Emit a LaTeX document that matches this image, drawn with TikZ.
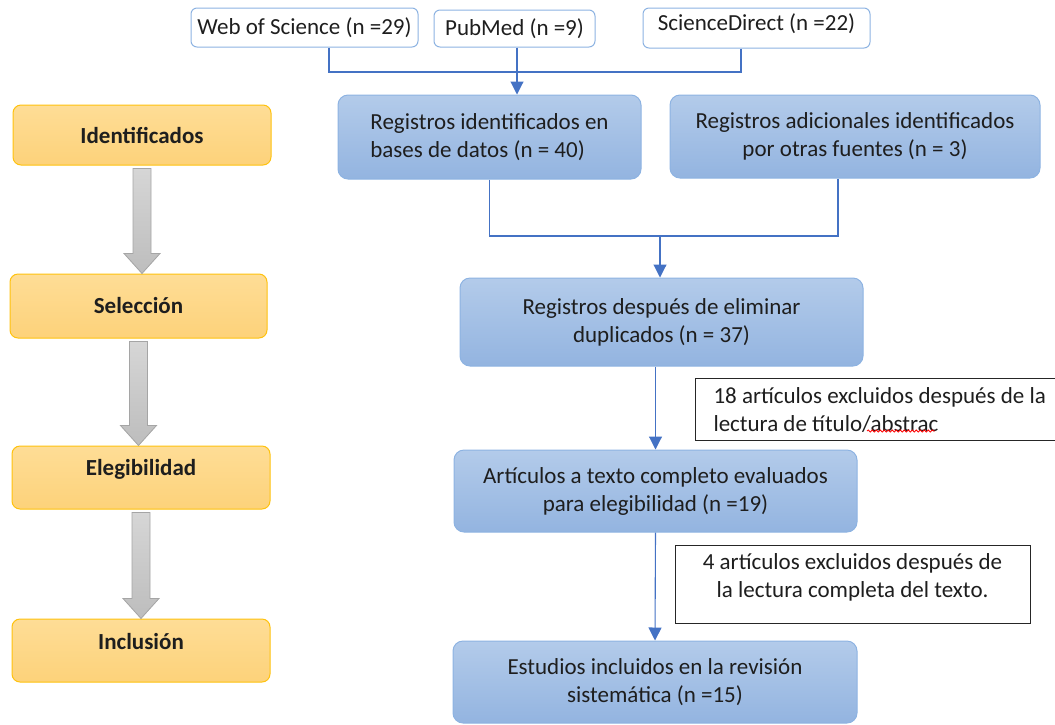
\documentclass[tikz,border=0pt]{standalone}
\usepackage{fontspec}
\setmainfont{Carlito}
\usetikzlibrary{arrows.meta,calc,decorations.pathmorphing}
\definecolor{bfilla}{HTML}{B3CBEA}
\definecolor{bfillb}{HTML}{93B4E0}
\definecolor{bline}{HTML}{8DB3E2}
\definecolor{ofilla}{HTML}{FEDD96}
\definecolor{ofillb}{HTML}{FDD27A}
\definecolor{oline}{HTML}{FFC20E}
\definecolor{connc}{HTML}{4472C4}
\definecolor{gfilla}{HTML}{D6D6D6}
\definecolor{gfillb}{HTML}{BDBDBD}
\definecolor{gline}{HTML}{A5A5A5}
\definecolor{txt}{HTML}{1E1E1E}
\newcommand\fatarrow[2]{\draw[fatarr] let \p1=($(#1.south)+(0,3)$), \p2=(#2.north) in
  (\x1-9pt,\y1) -- (\x1+9pt,\y1) -- (\x1+9pt,\y2+20pt) -- (\x1+18pt,\y2+20pt) -- (\x1,\y2)
  -- (\x1-18pt,\y2+20pt) -- (\x1-9pt,\y2+20pt) -- cycle;}
\begin{document}
\begin{tikzpicture}[x=1pt,y=-1pt,
  every node/.style={font=\fontsize{23}{28}\selectfont, text=txt, inner sep=0pt},
  srcbox/.style={draw=bline, fill=white, rounded corners=6pt, line width=1pt},
  bluebox/.style={draw=bline, top color=bfilla, bottom color=bfillb, rounded corners=10pt, line width=1pt, align=center},
  stagebox/.style={draw=oline, top color=ofilla, bottom color=ofillb, rounded corners=8pt, line width=1pt, font=\fontsize{23}{28}\selectfont\bfseries},
  exbox/.style={draw=black!85, fill=white, line width=1pt},
  link/.style={draw=connc, line width=1.1pt},
  arr/.style={link, -{Triangle[width=13pt,length=13pt]}},
  fatarr/.style={draw=gline, top color=gfilla, bottom color=gfillb, line width=0.8pt, line join=miter}]
\useasboundingbox (0,0) rectangle (1055,724);

% sources
\node[srcbox, minimum width=227, minimum height=39] (wos) at (304.5,27.5) {Web of Science (n =29)};
\node[srcbox, minimum width=161, minimum height=37] (pub) at (514.5,28.5) {PubMed (n =9)};
\node[srcbox, minimum width=227, minimum height=40, text depth=12pt] (sd) at (756.5,28) {ScienceDirect (n =22)};

% main flow
\node[bluebox, minimum width=303, minimum height=84, align=left] (reg) at (489.5,137) {Registros identificados en\\bases de datos (n = 40)};
\node[bluebox, minimum width=370, minimum height=83] (adi) at (855,136.5) {Registros adicionales identificados\\por otras fuentes (n = 3)};
\node[bluebox, minimum width=403, minimum height=88] (dup) at (661.5,322) {Registros después de eliminar\\duplicados (n = 37)};
\node[bluebox, minimum width=403, minimum height=82] (art) at (655.5,491) {Artículos a texto completo evaluados\\para elegibilidad (n =19)};
\node[bluebox, minimum width=404, minimum height=82] (est) at (655,682) {Estudios incluidos en la revisión\\sistemática (n =15)};

% exclusions
\node[exbox, anchor=north west, inner xsep=18pt, minimum height=62, align=left] (exa) at (695,378) {18 artículos excluidos después de la\\lectura de título/abstrac};
\node[exbox, minimum width=355, minimum height=78, align=center, text depth=16pt] (exb) at (852.5,584) {4 artículos excluidos después de\\la lectura completa del texto.};

% stages
\node[stagebox, minimum width=258, minimum height=60] (ident) at (142,135) {Identificados};
\node[stagebox, minimum width=257, minimum height=64] (sel) at (138.5,306) {Selección};
\node[stagebox, minimum width=258, minimum height=63, text depth=20pt] (ele) at (141,477.5) {Elegibilidad};
\node[stagebox, minimum width=258, minimum height=63, text depth=18pt] (inc) at (141,650.5) {Inclusión};

\fatarrow{ident}{sel}
\fatarrow{sel}{ele}
\fatarrow{ele}{inc}

% connectors
\coordinate (j1) at (517,72);
\draw[link] (wos.south) ++(24.5,0) |- (j1);
\draw[link] (sd.south) ++(-15.5,0) |- (j1);
\draw[arr] (pub.south) ++(2.5,0) -- (j1 |- reg.north);

\coordinate (j2) at (660,236);
\draw[link] (reg.south) |- (j2);
\draw[link] (adi.south) ++(-17,0) |- (j2);
\draw[arr] (j2) -- (j2 |- dup.north);

\draw[arr] (art.north |- dup.south) -- (art.north);
\draw[arr] (art.south) -- (est.north);

% spell-check mark
\draw[red, line width=0.8pt, decorate, decoration={snake, amplitude=1.1pt, segment length=4pt}]
  ($(exa.north west)+(172,53)$) -- ++(68,0);
\end{tikzpicture}
\end{document}
